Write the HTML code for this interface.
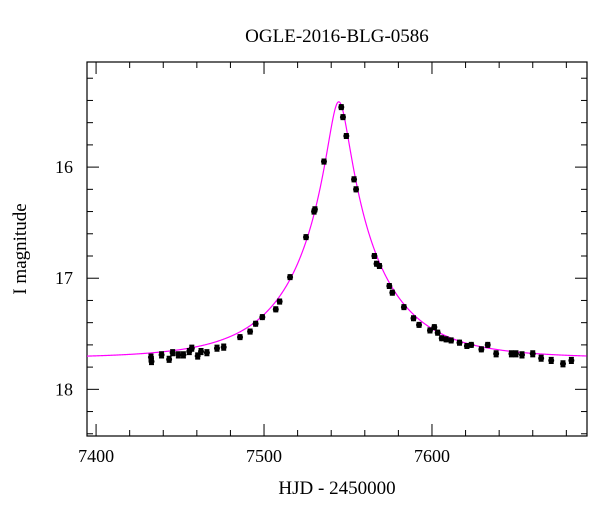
<!DOCTYPE html>
<html><head><meta charset="utf-8"><style>
body{margin:0;background:#fff;}
svg text{font-family:"Liberation Serif",serif;fill:#000;}
</style></head><body>
<svg id="chart" width="600" height="512">
<text x="337" y="42" font-size="19" text-anchor="middle">OGLE-2016-BLG-0586</text>
<rect x="87" y="62" width="500" height="374" fill="none" stroke="#000" stroke-width="1.2"/>
<g id="ticks"></g>
<g id="series"></g>
<text x="337" y="494" font-size="19" text-anchor="middle">HJD - 2450000</text>
<text transform="translate(26,249) rotate(-90)" font-size="19" text-anchor="middle">I magnitude</text>
</svg>
<script>
const times=[7432.7,7433,7439,7443.5,7445.6,7449,7452,7455.5,7457,7460.5,7462.5,7466,7472,7476,7485.7,7491.7,7495,7499,7507,7509.3,7515.5,7525,7529.8,7530.3,7535.7,7546,7547,7549,7553.6,7554.8,7565.7,7567,7568.7,7574.6,7576.4,7583.3,7589,7592.3,7598.8,7601.4,7603.4,7605.8,7608.4,7611.4,7616.4,7620.8,7623.4,7629.4,7633.2,7638.2,7647.3,7650,7653.6,7660,7665,7671,7678,7683];
const mags=[17.71,17.75,17.69,17.73,17.67,17.69,17.69,17.66,17.63,17.70,17.66,17.67,17.63,17.62,17.53,17.48,17.41,17.35,17.28,17.21,16.99,16.63,16.40,16.38,15.95,15.46,15.55,15.72,16.11,16.20,16.80,16.87,16.89,17.07,17.13,17.26,17.36,17.42,17.47,17.44,17.49,17.54,17.55,17.56,17.58,17.61,17.60,17.64,17.60,17.68,17.68,17.68,17.69,17.68,17.72,17.74,17.77,17.74];
const errs=[0.025,0.025,0.025,0.025,0.025,0.025,0.025,0.025,0.025,0.025,0.025,0.025,0.025,0.025,0.02,0.02,0.02,0.02,0.02,0.02,0.02,0.02,0.02,0.02,0.02,0.02,0.02,0.02,0.02,0.02,0.02,0.02,0.02,0.02,0.02,0.02,0.02,0.02,0.02,0.02,0.02,0.02,0.02,0.02,0.02,0.02,0.02,0.02,0.02,0.025,0.025,0.025,0.025,0.025,0.025,0.025,0.025,0.025];
const xTickLabels=[7400,7500,7600];
const yTickLabels=[16,17,18];
const modelT0=7544.5, modelU0=0.12, modelTE=50.7, modelBase=17.72;

const NS="http://www.w3.org/2000/svg";
const X0=87,X1=587,Y0=62,Y1=436;
const xMin=7394.6,xMax=7692.3,yMin=15.054,yMax=18.42;
const sx=v=>X0+(v-xMin)/(xMax-xMin)*(X1-X0);
const sy=v=>Y0+(v-yMin)/(yMax-yMin)*(Y1-Y0);
function mk(t,p,a){const e=document.createElementNS(NS,t);for(const k in a)e.setAttribute(k,a[k]);p.appendChild(e);return e;}
const tg=document.getElementById('ticks');
for(let v=7400;v<=7680;v+=20){
  const x=sx(v),L=(v%100===0)?12:6;
  const t1=mk('line',tg,{x1:x,x2:x,y1:Y1,y2:Y1-L,stroke:'#000'});
  
  
  const t2=mk('line',tg,{x1:x,x2:x,y1:Y0,y2:Y0+L,stroke:'#000'});
  
  
}
for(let i=0;i<=16;i++){
  const v=15.2+i*0.2, y=sy(v), L=(Math.abs(v-Math.round(v))<1e-6)?12:6;
  if(y<Y0||y>Y1)continue;
  const t1=mk('line',tg,{x1:X0,x2:X0+L,y1:y,y2:y,stroke:'#000'});
  
  
  const t2=mk('line',tg,{x1:X1,x2:X1-L,y1:y,y2:y,stroke:'#000'});
  
  
}
xTickLabels.forEach(v=>{
  const t=mk('text',tg,{x:sx(v),y:Y1+26,'font-size':18,'text-anchor':'middle'});
  t.textContent=v;
  
  
});
yTickLabels.forEach(v=>{
  const t=mk('text',tg,{x:X0-14,y:sy(v)+6,'font-size':18,'text-anchor':'end'});
  t.textContent=v;
  
  
});
const sg=document.getElementById('series');
let d='';
for(let t=xMin;t<=xMax;t+=0.25){
  const tau=(t-modelT0)/modelTE,u=Math.sqrt(tau*tau+modelU0*modelU0);
  const A=(u*u+2)/(u*Math.sqrt(u*u+4));
  const m=modelBase-2.5*Math.log10(A);
  d+=(d?'L':'M')+sx(t).toFixed(2)+','+sy(m).toFixed(2);
}
const path=mk('path',sg,{d:d,fill:'none',stroke:'#ff00ff','stroke-width':1.2});


times.forEach((t,i)=>{
  const x=sx(t),y=sy(mags[i]);
  const ya=sy(mags[i]-errs[i]),yb=sy(mags[i]+errs[i]);
  const eb=mk('path',sg,{d:`M${x},${ya}V${yb}M${x-2.5},${ya}H${x+2.5}M${x-2.5},${yb}H${x+2.5}`,stroke:'#000','stroke-width':1.6,fill:'none'});
  
  
  const c=mk('circle',sg,{cx:x,cy:y,r:3,fill:'#000'});
  
  
});
</script>
</body></html>
